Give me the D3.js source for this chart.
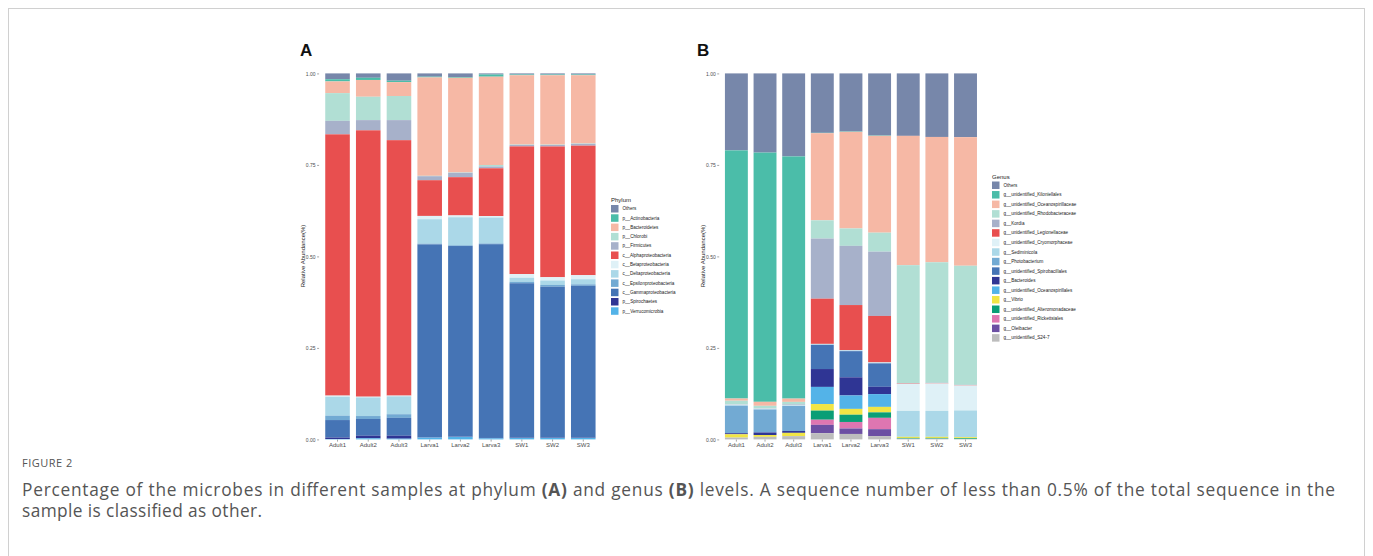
<!DOCTYPE html>
<html>
<head>
<meta charset="utf-8">
<script src="https://cdn.jsdelivr.net/npm/d3@7/dist/d3.min.js"></script>
<style>
  body { margin: 0; background: #fff; }
  svg text { font-family: "Liberation Sans", Arial, sans-serif; }
  svg text.cap { font-family: "Open Sans", "Noto Sans", sans-serif; }
</style>
</head>
<body>
<svg id="fig" width="1373" height="556"></svg>
<script>
// samples on the x axis (same for both panels)
var samples = ["Adult1", "Adult2", "Adult3", "Larva1", "Larva2", "Larva3", "SW1", "SW2", "SW3"];

// panel A - phylum level, first row is drawn on top of the stack
var phylumNames = ["Others", "p__Actinobacteria", "p__Bacteroidetes", "p__Chlorobi", "p__Firmicutes",
  "c__Alphaproteobacteria", "c__Betaproteobacteria", "c__Deltaproteobacteria", "c__Epsilonproteobacteria",
  "c__Gammaproteobacteria", "p__Spirochaetes", "p__Verrucomicrobia"];
var phylumColors = ["#7787aa", "#4bbda9", "#f6b8a5", "#b1dfd4", "#a7b1ca", "#e84f4f",
  "#dff1f7", "#abd8e8", "#72aad3", "#4574b5", "#2f3594", "#53b3e8"];
var phylumValues = [
  // Adult1 Adult2 Adult3 Larva1 Larva2 Larva3 SW1 SW2 SW3
  [0.016, 0.012, 0.020, 0.009, 0.010, 0.003, 0.003, 0.003, 0.003],
  [0.006, 0.006, 0.004, 0.002, 0.002, 0.006, 0.002, 0.002, 0.002],
  [0.032, 0.046, 0.038, 0.270, 0.260, 0.242, 0.190, 0.190, 0.187],
  [0.076, 0.064, 0.066, 0.001, 0.001, 0.004, 0.001, 0.001, 0.001],
  [0.037, 0.028, 0.055, 0.011, 0.012, 0.005, 0.004, 0.004, 0.005],
  [0.716, 0.730, 0.700, 0.098, 0.105, 0.131, 0.350, 0.358, 0.355],
  [0.003, 0.002, 0.002, 0.009, 0.005, 0.004, 0.010, 0.009, 0.011],
  [0.052, 0.051, 0.049, 0.067, 0.077, 0.071, 0.011, 0.012, 0.014],
  [0.012, 0.008, 0.010, 0.002, 0.002, 0.002, 0.004, 0.005, 0.004],
  [0.048, 0.046, 0.049, 0.529, 0.523, 0.531, 0.423, 0.413, 0.416],
  [0.004, 0.007, 0.008, 0.001, 0.001, 0.001, 0.001, 0.001, 0.001],
  [0.001, 0.003, 0.002, 0.005, 0.007, 0.003, 0.004, 0.004, 0.004]
];

// panel B - genus level
var genusNames = ["Others", "g__unidentified_Kiloniellales", "g__unidentified_Oceanospirillaceae",
  "g__unidentified_Rhodobacteraceae", "g__Kordia", "g__unidentified_Legionellaceae",
  "g__unidentified_Cryomorphaceae", "g__Sediminicola", "g__Photobacterium",
  "g__unidentified_Spirobacillales", "g__Bacteroides", "g__unidentified_Oceanospirillales",
  "g__Vibrio", "g__unidentified_Alteromonadaceae", "g__unidentified_Rickettsiales",
  "g__Oleibacter", "g__unidentified_S24-7"];
var genusColors = ["#7787aa", "#4bbda9", "#f6b8a5", "#b1dfd4", "#a7b1ca", "#e84f4f",
  "#dff1f7", "#abd8e8", "#72aad3", "#4574b5", "#2f3594", "#53b3e8",
  "#f1e545", "#0a9e76", "#de76b1", "#6c4fa3", "#bdbdbd"];
var genusValues = [
  [0.211, 0.217, 0.228, 0.163, 0.160, 0.170, 0.171, 0.174, 0.174],
  [0.680, 0.683, 0.665, 0.001, 0.001, 0.001, 0.000, 0.000, 0.000],
  [0.006, 0.011, 0.009, 0.239, 0.266, 0.265, 0.354, 0.343, 0.351],
  [0.010, 0.007, 0.007, 0.050, 0.048, 0.052, 0.323, 0.330, 0.325],
  [0.001, 0.001, 0.002, 0.165, 0.163, 0.176, 0.001, 0.001, 0.001],
  [0.000, 0.000, 0.000, 0.124, 0.124, 0.127, 0.001, 0.001, 0.001],
  [0.001, 0.001, 0.001, 0.001, 0.001, 0.001, 0.074, 0.075, 0.068],
  [0.002, 0.001, 0.001, 0.001, 0.001, 0.001, 0.071, 0.071, 0.073],
  [0.075, 0.063, 0.069, 0.001, 0.001, 0.001, 0.000, 0.000, 0.000],
  [0.000, 0.000, 0.000, 0.066, 0.072, 0.064, 0.000, 0.000, 0.000],
  [0.003, 0.007, 0.005, 0.049, 0.050, 0.020, 0.000, 0.000, 0.000],
  [0.000, 0.000, 0.000, 0.047, 0.037, 0.035, 0.000, 0.000, 0.000],
  [0.009, 0.005, 0.009, 0.018, 0.016, 0.015, 0.003, 0.003, 0.003],
  [0.000, 0.000, 0.000, 0.025, 0.020, 0.015, 0.002, 0.002, 0.002],
  [0.000, 0.000, 0.000, 0.014, 0.018, 0.031, 0.000, 0.000, 0.000],
  [0.000, 0.000, 0.000, 0.023, 0.015, 0.019, 0.000, 0.000, 0.000],
  [0.005, 0.007, 0.009, 0.017, 0.015, 0.009, 0.002, 0.002, 0.001]
];

var yTicks = [0, 0.25, 0.5, 0.75, 1];

var svg = d3.select("#fig");

// frame round the figure
svg.append("rect")
  .attr("x", 8.5).attr("y", 8.5)
  .attr("width", 1356).attr("height", 600)
  .attr("fill", "none").attr("stroke", "#d0d0d0");

function drawPanel(opt) {
  var g = svg.append("g");

  var x = d3.scaleBand()
    .domain(samples)
    .range([opt.left, opt.right])
    .paddingInner(0.2)
    .paddingOuter(0.2);

  var y = d3.scaleLinear()
    .domain([0, 1])
    .range([439.4, 73.4]);

  // one object per sample, keyed by taxon name
  var rows = samples.map(function(s, i) {
    var r = { sample: s };
    opt.names.forEach(function(n, k) { r[n] = opt.values[k][i]; });
    return r;
  });

  var stack = d3.stack()
    .keys(opt.names)
    .order(d3.stackOrderReverse)
    .offset(d3.stackOffsetExpand);

  var color = d3.scaleOrdinal().domain(opt.names).range(opt.colors);

  var layers = g.selectAll(".layer")
    .data(stack(rows))
    .enter().append("g")
    .attr("fill", function(d) { return color(d.key); });

  layers.selectAll("rect")
    .data(function(d) { return d; })
    .enter().append("rect")
    .attr("x", function(d) { return x(d.data.sample); })
    .attr("width", x.bandwidth())
    .attr("y", function(d) { return y(d[1]); })
    .attr("height", function(d) { return Math.max(0, y(d[0]) - y(d[1])); });

  // axes
  var yAxis = g.append("g")
    .attr("transform", "translate(" + opt.left + ",0)")
    .call(d3.axisLeft(y).tickValues(yTicks).tickFormat(d3.format(".2f")).tickSize(2).tickPadding(1.5));
  yAxis.select(".domain").remove();
  yAxis.selectAll("line").attr("stroke", "#4d4d4d").attr("stroke-width", 0.5);
  yAxis.selectAll("text").attr("fill", "#4d4d4d").style("font-size", "5px");

  var xAxis = g.append("g")
    .attr("transform", "translate(0,439.6)")
    .call(d3.axisBottom(x).tickSize(2).tickPadding(1.5));
  xAxis.select(".domain").remove();
  xAxis.selectAll("line").attr("stroke", "#4d4d4d").attr("stroke-width", 0.5);
  xAxis.selectAll("text").attr("fill", "#4d4d4d").style("font-size", "6px");

  g.append("text")
    .attr("transform", "translate(" + opt.yTitleX + ",256) rotate(-90)")
    .attr("text-anchor", "middle")
    .style("font-size", "6px")
    .attr("fill", "#222")
    .text("Relative Abundance(%)");

  // panel letter
  g.append("text")
    .attr("x", opt.letterX).attr("y", 56)
    .style("font-size", "17px").style("font-weight", "bold")
    .attr("fill", "#111")
    .text(opt.letter);

  // legend
  var leg = g.append("g").attr("transform", "translate(" + opt.legX + "," + opt.legY + ")");
  leg.append("text")
    .attr("x", 0).attr("y", -3)
    .style("font-size", "6px").attr("fill", "#222")
    .text(opt.legTitle);
  var item = leg.selectAll(".item")
    .data(opt.names)
    .enter().append("g")
    .attr("transform", function(d, i) { return "translate(0," + (i * opt.legStep) + ")"; });
  item.append("rect")
    .attr("width", 7.5).attr("height", 7.5)
    .attr("fill", function(d) { return color(d); });
  item.append("text")
    .attr("x", 11.5).attr("y", 5.3)
    .style("font-size", "4.6px").attr("fill", "#222")
    .text(function(d) { return d; });
}

drawPanel({
  letter: "A", letterX: 300,
  left: 319.1, right: 601.7, yTitleX: 304.5,
  names: phylumNames, colors: phylumColors, values: phylumValues,
  legTitle: "Phylum", legX: 611, legY: 205, legStep: 9.3
});

drawPanel({
  letter: "B", letterX: 697,
  left: 719.2, right: 982.7, yTitleX: 704.5,
  names: genusNames, colors: genusColors, values: genusValues,
  legTitle: "Genus", legX: 992, legY: 181.5, legStep: 9.54
});

// caption
svg.append("text")
  .attr("class", "cap")
  .attr("x", 22).attr("y", 467)
  .style("font-size", "11px").style("letter-spacing", "0.5px")
  .attr("fill", "#555")
  .text("FIGURE 2");

var cap = svg.append("text")
  .attr("class", "cap")
  .attr("x", 22).attr("y", 496)
  .attr("textLength", 1313).attr("lengthAdjust", "spacing")
  .style("font-size", "17.3px")
  .attr("fill", "#555");
cap.append("tspan").text("Percentage of the microbes in different samples at phylum ");
cap.append("tspan").style("font-weight", "bold").text("(A)");
cap.append("tspan").text(" and genus ");
cap.append("tspan").style("font-weight", "bold").text("(B)");
cap.append("tspan").text(" levels. A sequence number of less than 0.5% of the total sequence in the");

svg.append("text")
  .attr("class", "cap")
  .attr("x", 22).attr("y", 517)
  .attr("textLength", 240).attr("lengthAdjust", "spacing")
  .style("font-size", "17.3px")
  .attr("fill", "#555")
  .text("sample is classified as other.");
</script>
</body>
</html>
